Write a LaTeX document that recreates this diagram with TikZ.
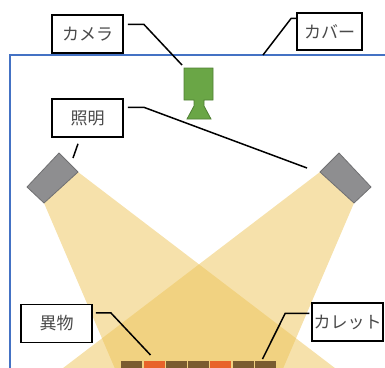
\documentclass[tikz,border=0pt]{standalone}
\usepackage{fontspec}
\setmainfont{Noto Sans CJK JP}
\usetikzlibrary{calc}

\definecolor{coverblue}{HTML}{4472C4}
\definecolor{beamyellow}{RGB}{237,195,87}
\definecolor{lampgray}{HTML}{8E8E90}
\definecolor{lampedge}{HTML}{707072}
\definecolor{camgreen}{HTML}{6AA646}
\definecolor{camedge}{HTML}{4F7F33}
\definecolor{cullet}{HTML}{7A5C30}
\definecolor{foreign}{HTML}{E8632A}
\definecolor{labeltext}{HTML}{4A4A4A}

\begin{document}
\begin{tikzpicture}[x=1pt,y=-1pt,
  tag/.style={draw=black, line width=1.5pt, fill=white, inner sep=0pt,
    minimum width=71pt, minimum height=38pt, text=labeltext,
    font=\fontsize{17}{17}\selectfont},
  leader/.style={draw=black, line width=1.5pt},
  beam/.style={fill=beamyellow, fill opacity=0.5},
  lamp/.style={fill=lampgray, draw=lampedge, line width=0.8pt, line join=round},
  cover/.style={draw=coverblue, line width=1.4pt},
  piece/.style={minimum width=21pt, minimum height=14pt, inner sep=0pt, anchor=north west}
]
\useasboundingbox (0,0) rectangle (385,367);
\clip (0,0) rectangle (385,367);

% light cones from both lamps
\fill[beam] (78,172) -- (403,420) -- (137,420) -- (44,203) -- cycle;
\fill[beam] (320,172) -- (-5,420) -- (261,420) -- (354,203) -- cycle;

% cover outline
\draw[cover] (10,380) -- (10,55) -- (390,55);

% camera
\draw[fill=camgreen, draw=camedge, line width=0.8pt]
  (184,68) -- (213,68) -- (213,100) -- (204,100) -- (204,106) -- (211,119)
  -- (187,119) -- (194,106) -- (194,100) -- (184,100) -- cycle;
\coordinate (camtop) at (182,65);

% lamps
\draw[lamp] (59,153) -- (78,172) -- (44,203) -- (27,187) -- cycle;
\draw[lamp] (339,153) -- (320,172) -- (354,203) -- (371,187) -- cycle;
\coordinate (lampL) at (73,158);
\coordinate (lampR) at (307,168);

% pieces on the belt
\foreach \c [count=\i from 0] in {cullet,foreign,cullet,cullet,foreign,cullet,cullet}
  \node[piece, fill=\c] (p\i) at ({121+22.3*\i},361) {};

% labels
\node[tag] (camlabel) at (87.5,34) {カメラ};
\node[tag, minimum width=65pt, minimum height=37pt] (coverlabel) at (329.5,31.5) {カバー};
\node[tag] (lightlabel) at (87.5,118) {照明};
\node[tag] (foreignlabel) at (56.5,323.5) {異物};
\node[tag] (culletlabel) at (347.5,322) {カレット};

% leader lines
\coordinate (coveredge) at (263,55);
\draw[leader] ($(camlabel.north east)+(4,10)$) -- ++(16,0) -- (camtop);
\draw[leader] ($(coverlabel.north west)+(0,6)$) -- ++(-5,0) -- (coveredge);
\draw[leader] ($(lightlabel.north east)+(4,9)$) -- ++(16,0) -- (lampR);
\draw[leader] ($(lightlabel.south)+(-9.5,6)$) -- (lampL);
\draw[leader] ($(foreignlabel.north east)+(3,9)$) -- ++(15,0) -- ($(p1.north)+(-3.5,-6)$);
\draw[leader] ($(culletlabel.north west)+(-2,11)$) -- ++(-24,0) -- ($(p6.north)+(-3,-2)$);
\end{tikzpicture}
\end{document}
